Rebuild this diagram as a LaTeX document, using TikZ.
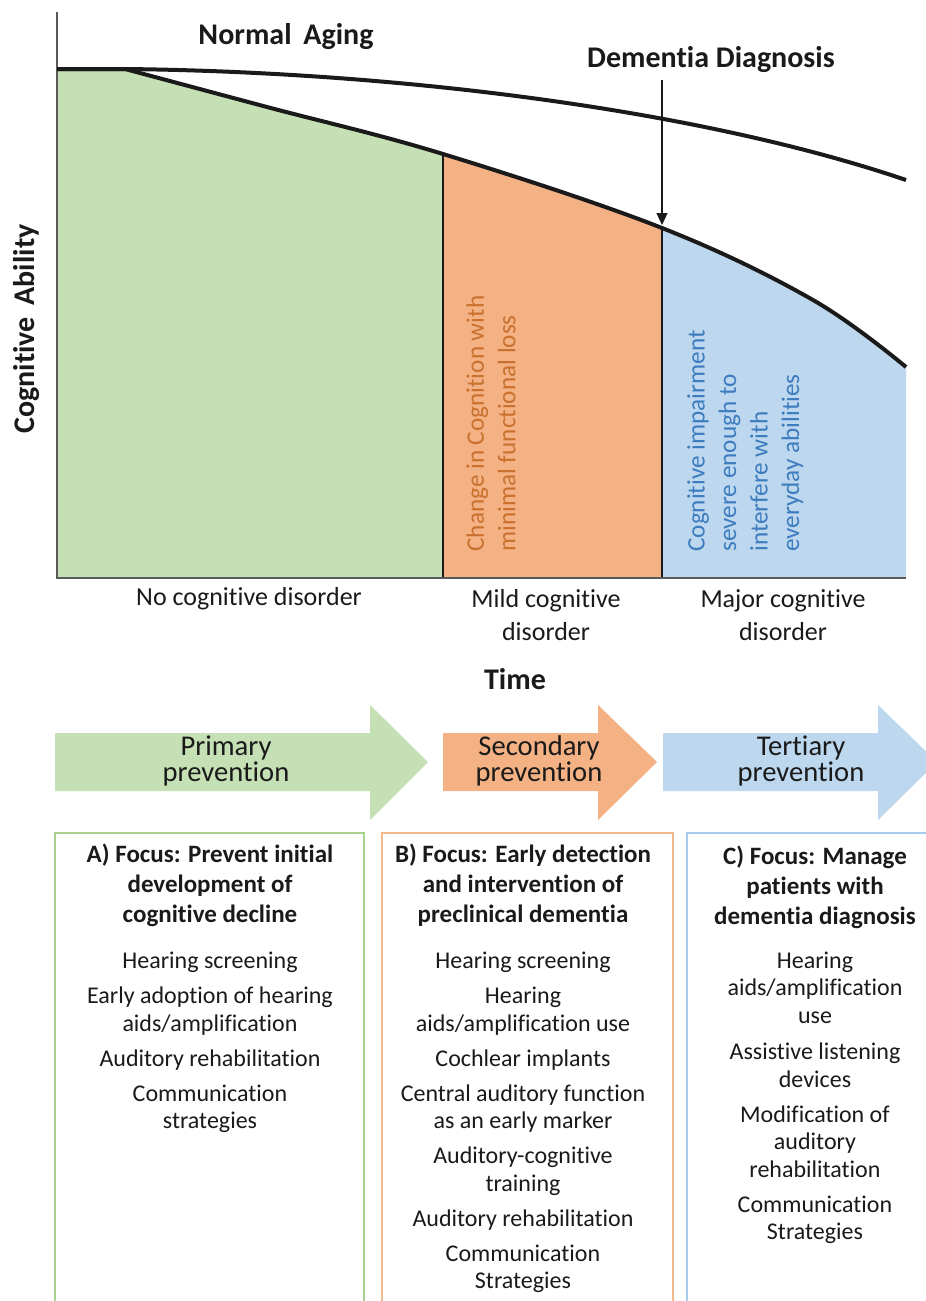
\documentclass[tikz,border=0pt]{standalone}
\usepackage{fontspec}
\setmainfont{Carlito}[Ligatures=NoCommon]
\usetikzlibrary{positioning, arrows.meta, calc}

\definecolor{stagegreen}{HTML}{C5E0B4}
\definecolor{stageorange}{HTML}{F4B183}
\definecolor{stageblue}{HTML}{BDD7EE}
\definecolor{textorange}{HTML}{C9712E}
\definecolor{textblue}{HTML}{3C7CBF}
\definecolor{linegreen}{HTML}{A9D18E}
\definecolor{lineorange}{HTML}{F0B98F}
\definecolor{lineblue}{HTML}{A7CBEA}
\definecolor{ink}{HTML}{1A1A1A}

\newcommand{\PrevArrow}[4]{%
  \fill[#1] (#2,733) -- (#3,733) -- (#3,705) -- (#4,762) -- (#3,820) -- (#3,791) -- (#2,791) -- cycle;}
\newcommand{\FocusHead}[1]{{\fontsize{12.5}{13.75}\selectfont\bfseries #1}}

\tikzset{
    decline/.style={insert path={-- plot[smooth, tension=0.6] coordinates {(125,69) (267,107) (443,154) (662,228) (813,300) (906,367)}}},
    curve/.style={line width=2pt, draw=ink},
    axisline/.style={line width=0.9pt, draw=black!65},
    divider/.style={line width=0.7pt, draw=ink},
    title/.style={font=\fontsize{15}{18}\selectfont\bfseries, text=ink, inner sep=0pt},
    stagelabel/.style={font=\fontsize{13}{16.5}\selectfont, align=center, text=ink, inner sep=0pt},
    vtext/.style={rotate=90, anchor=north west, align=left, inner sep=0pt, font=\fontsize{12.6}{15.75}\selectfont},
    prevlabel/.style={font=\fontsize{14.3}{12.8}\selectfont, align=center, text=ink, inner sep=0pt},
    focusbox/.style={line width=0.6pt},
    focustext/.style={anchor=north, align=center, inner sep=0pt, text=ink, font=\fontsize{12}{13.75}\selectfont},
}

\begin{document}
\begin{tikzpicture}[x=0.5pt, y=-0.5pt]
    \clip (0,0) rectangle (926,1301);
    \fill[white] (0,0) rectangle (926,1301);

    % stages under the decline curve
    \foreach \c/\xa/\xb in {stagegreen/57/443, stageorange/443/662, stageblue/662/906} {
      \begin{scope}
        \clip (\xa,0) rectangle (\xb,578);
        \fill[\c] (57,578) -- (57,69) [decline] -- (906,578) -- cycle;
      \end{scope}
    }

    \draw[divider] (443,154) -- (443,578);
    \draw[divider] (662,228) -- (662,578);
    \draw[axisline] (57,12) -- (57,578) -- (906,578);

    \draw[curve] (57,69) -- (125,69) .. controls (400,72) and (700,110) .. (906,180);
    \draw[curve] (57,69) [decline];

    \node[title] (aging) at (286,37) {Normal\, Aging};
    \node[title] (dd) at (711,60) {Dementia Diagnosis};
    \node[title, rotate=90] (ability) at (27,329) {Cognitive\, Ability};
    \node[title] (time) at (515,679) {Time};

    \coordinate (dtop) at (662,80);
    \coordinate (donset) at (662,228);
    \draw[line width=0.6pt, ink, -{Triangle[length=6pt, width=5.5pt]}, shorten >=1.5pt] (dtop) -- (donset);

    \node[vtext, text=textorange] (mildtxt) at (466,552) {Change in Cognition with\\minimal functional loss};
    \node[vtext, text=textblue] (majortxt) at (687,552) {Cognitive impairment\\severe enough to\\interfere with\\everyday abilities};

    \node[stagelabel] (none) at (249,599) {No cognitive disorder};
    \node[stagelabel] (mild) at (546,615) {Mild cognitive\\disorder};
    \node[stagelabel] (major) at (783,615) {Major cognitive\\disorder};

    % prevention arrows
    \PrevArrow{stagegreen}{55}{370}{428}
    \PrevArrow{stageorange}{443}{598}{657}
    \PrevArrow{stageblue}{663}{878}{937}
    \node[prevlabel] (primary) at (226,761) {Primary\\prevention};
    \node[prevlabel] (secondary) at (539,761) {Secondary\\prevention};
    \node[prevlabel] (tertiary) at (801,761) {Tertiary\\prevention};

    % focus boxes
    \draw[focusbox, linegreen] (55,1320) rectangle (364,833);
    \draw[focusbox, lineorange] (382,1320) rectangle (673,833);
    \draw[focusbox, lineblue] (687,1320) rectangle (940,833);

    \node[focustext] (focusa) at (210,844) {%
      \FocusHead{A) Focus: Prevent initial}\\[1.25pt]
      \FocusHead{development of}\\[1.25pt]
      \FocusHead{cognitive decline}\\[9.25pt]
      Hearing screening\\[3.75pt]
      Early adoption of hearing\\
      aids/amplification\\[3.75pt]
      Auditory rehabilitation\\[3.75pt]
      Communication\\
      strategies};
    \node[focustext] (focusb) at (523,844) {%
      \FocusHead{B) Focus: Early detection}\\[1.25pt]
      \FocusHead{and intervention of}\\[1.25pt]
      \FocusHead{preclinical dementia}\\[9.25pt]
      Hearing screening\\[3.75pt]
      Hearing\\
      aids/amplification use\\[3.75pt]
      Cochlear implants\\[3.75pt]
      Central auditory function\\
      as an early marker\\[3.75pt]
      Auditory-cognitive\\
      training\\[3.75pt]
      Auditory rehabilitation\\[3.75pt]
      Communication\\
      Strategies};
    \node[focustext] (focusc) at (815,846) {%
      \FocusHead{C) Focus: Manage}\\[1.25pt]
      \FocusHead{patients with}\\[1.25pt]
      \FocusHead{dementia diagnosis}\\[8pt]
      Hearing\\
      aids/amplification\\
      use\\[4.5pt]
      Assistive listening\\
      devices\\[3.75pt]
      Modification of\\
      auditory\\
      rehabilitation\\[3.75pt]
      Communication\\
      Strategies};
\end{tikzpicture}
\end{document}
